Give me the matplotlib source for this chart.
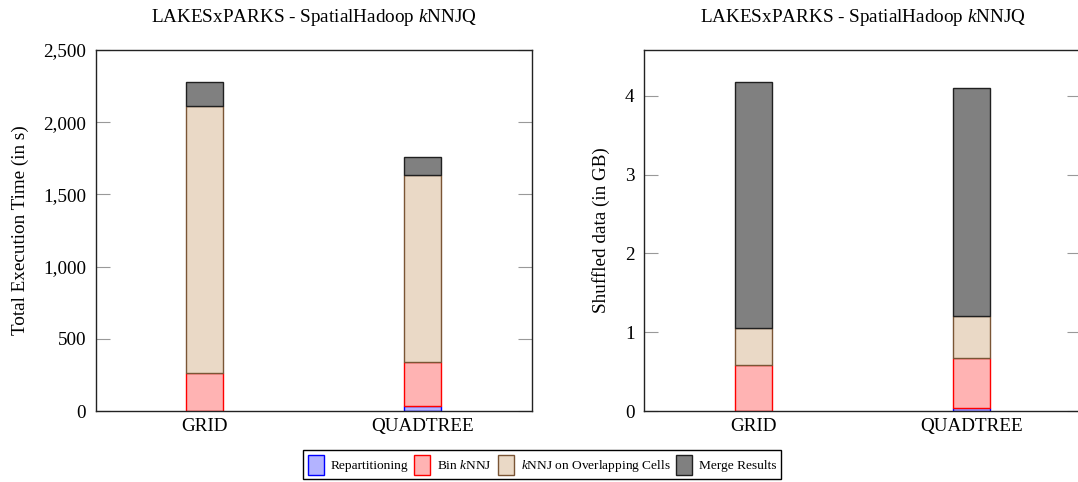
import matplotlib
matplotlib.use("Agg")
import matplotlib.pyplot as plt
from matplotlib.patches import Patch
from matplotlib.ticker import FuncFormatter
import numpy as np

plt.rcParams['font.family'] = ['Liberation Serif', 'DejaVu Serif']
plt.rcParams['mathtext.fontset'] = 'custom'
plt.rcParams['mathtext.rm'] = 'Liberation Serif'
plt.rcParams['mathtext.it'] = 'Liberation Serif:italic'

categories = ["GRID", "QUADTREE"]
series_names = ["Repartitioning", "Bin $k$NNJ", "$k$NNJ on Overlapping Cells", "Merge Results"]

# Total execution time (s)
time_repart = [0, 37]
time_bin = [261, 300]
time_overlap = [1849, 1299]
time_merge = [166, 121]

# Shuffled data (GB)
data_repart = [0, 0.034]
data_bin = [0.58, 0.643]
data_overlap = [0.47, 0.529]
data_merge = [3.12, 2.894]

title = "LAKESxPARKS - SpatialHadoop $k$NNJQ"

fills = ["#b3b3ff", "#ffb3b3", "#ead9c6", "#808080"]
edges = ["#0000ff", "#ff0000", "#7a5535", "#202020"]

fig = plt.figure(figsize=(10.78, 4.82), dpi=100)
ax1 = fig.add_axes([0.0888, 0.1473, 0.4047, 0.749])
ax2 = fig.add_axes([0.5977, 0.1473, 0.4051, 0.749])

x = np.arange(len(categories))
width = 0.17
FS = 13.8

def draw(ax, series, ymax, ylabel, fmt, lpad):
    bottom = np.zeros(len(categories))
    for vals, fc, ec in zip(series, fills, edges):
        vals = np.array(vals, dtype=float)
        ax.bar(x, vals, width, bottom=bottom, color=fc, edgecolor=ec, linewidth=1.0, zorder=2)
        bottom += vals
    ax.set_xlim(-0.5, 1.5)
    ax.set_ylim(0, ymax)
    ax.set_xticks(x)
    ax.set_xticklabels(categories, fontsize=FS)
    ax.tick_params(axis='x', length=0, pad=5)
    ax.tick_params(axis='y', direction='in', length=10, color='#999999', labelsize=FS,
                   right=True, pad=7)
    ax.yaxis.set_major_formatter(FuncFormatter(fmt))
    ax.set_ylabel(ylabel, fontsize=FS, labelpad=lpad)
    ax.set_title(title, fontsize=FS, pad=20)
    for s in ax.spines.values():
        s.set_linewidth(1.0)
        s.set_color('#222222')

draw(ax1, [time_repart, time_bin, time_overlap, time_merge], 2500,
     "Total Execution Time (in s)", lambda v, p: f"{int(v):,}", 10)
ax1.set_yticks([0, 500, 1000, 1500, 2000, 2500])
draw(ax2, [data_repart, data_bin, data_overlap, data_merge], 4.58,
     "Shuffled data (in GB)", lambda v, p: f"{int(v)}", 11)
ax2.set_yticks([0, 1, 2, 3, 4])

handles = [Patch(facecolor=fc, edgecolor=ec, linewidth=1.0) for fc, ec in zip(fills, edges)]
leg = fig.legend(handles, series_names, loc='center', bbox_to_anchor=(0.503, 0.036),
                 ncol=4, fontsize=9.6, frameon=True, fancybox=False, framealpha=1,
                 edgecolor='black', handlelength=1.2, handleheight=1.9,
                 columnspacing=0.45, handletextpad=0.5, borderpad=0.35)
leg.get_frame().set_linewidth(1.0)

fig.savefig("out.png", dpi=100)
